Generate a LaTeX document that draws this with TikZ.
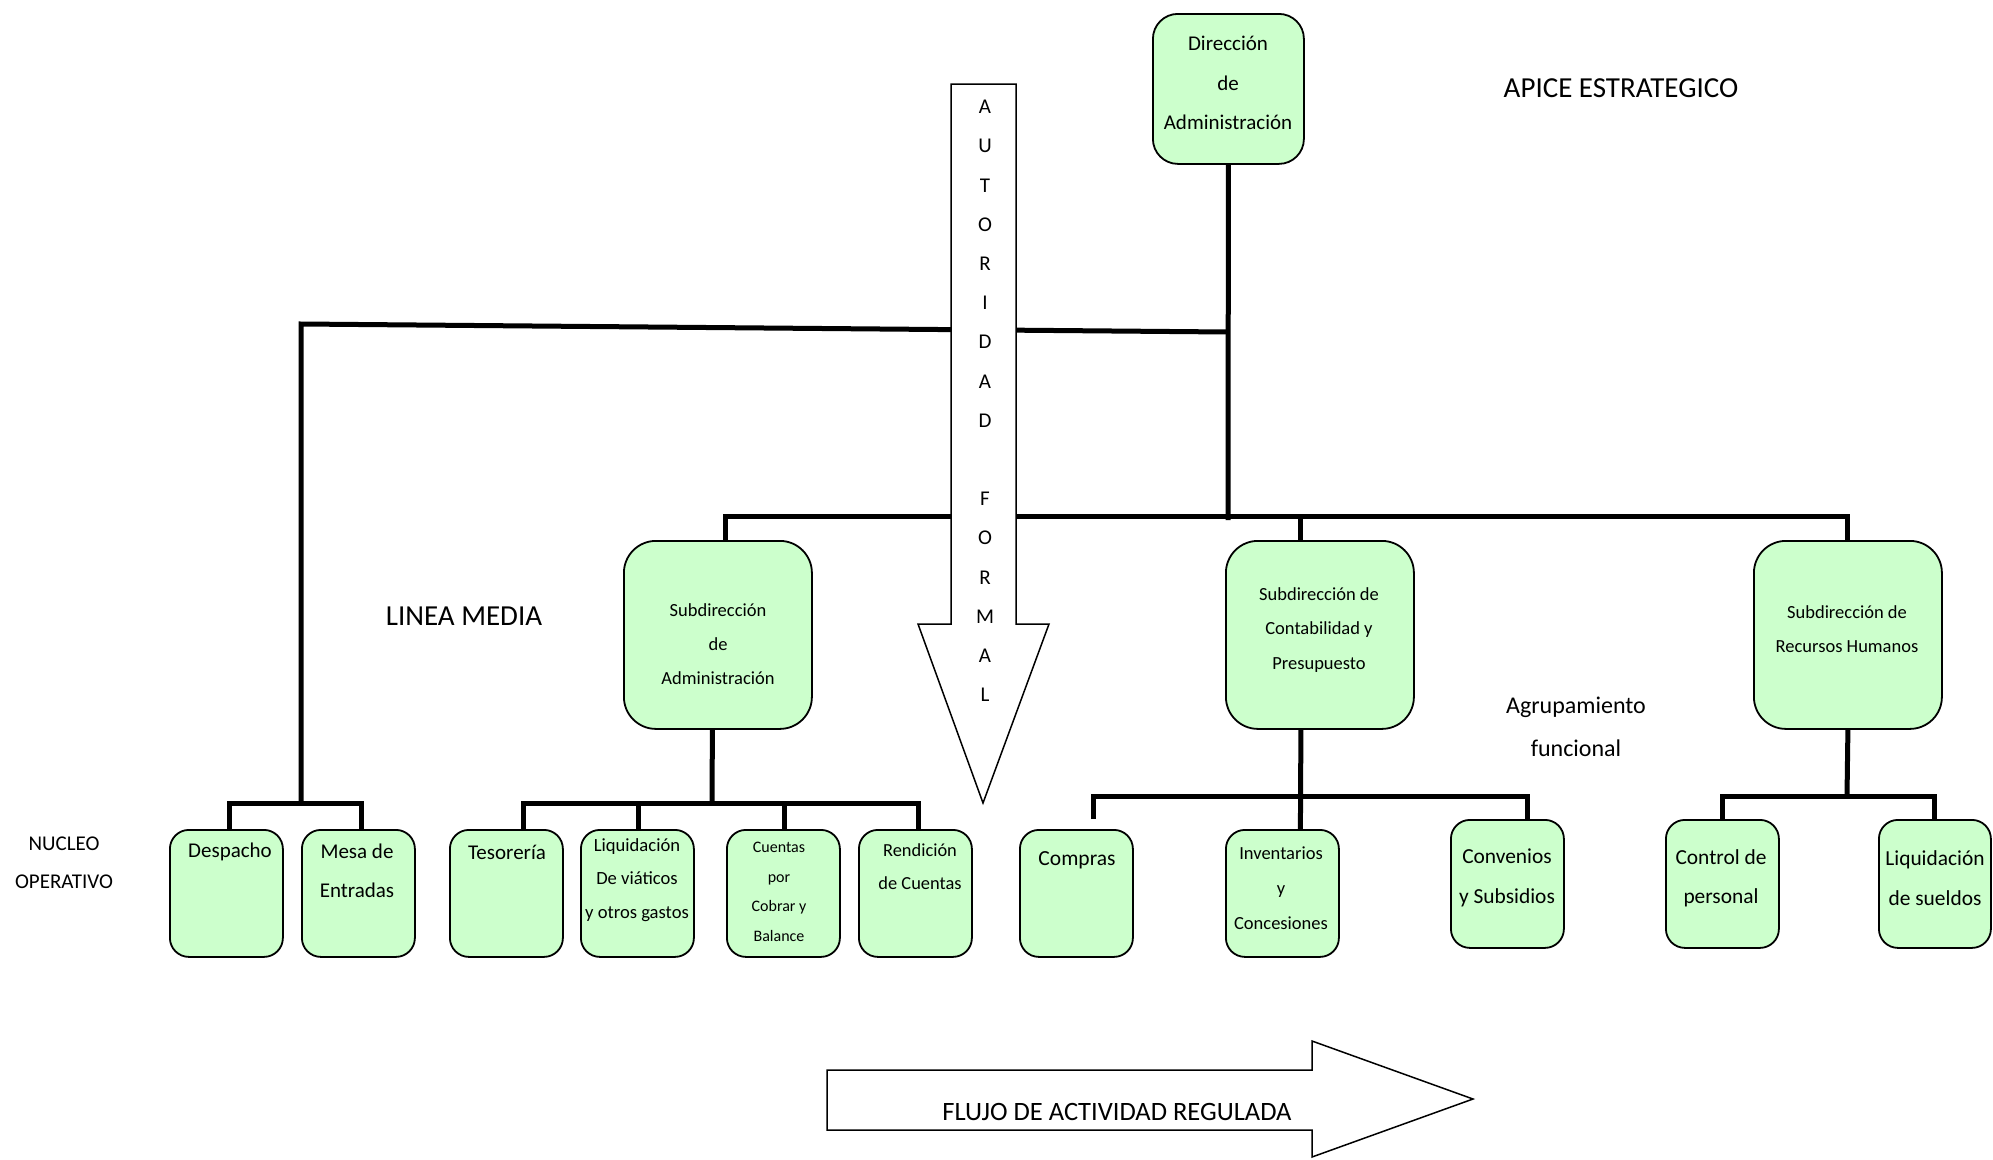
\documentclass[tikz,border=0pt]{standalone}
\usepackage{fontspec}
\setmainfont{Carlito}
\definecolor{boxgreen}{RGB}{204,255,204}
\newcommand{\fsz}[2]{\fontsize{#1}{#2}\selectfont}
\begin{document}
\begin{tikzpicture}[x=1pt,y=-1pt,
  box/.style={draw=black, line width=1.8pt, fill=boxgreen, inner sep=0pt, anchor=north west},
  topbox/.style={box, rounded corners=25pt, minimum width=151pt, minimum height=150pt},
  subbox/.style={box, rounded corners=32pt, minimum width=188pt, minimum height=188pt},
  leafbox/.style={box, rounded corners=19pt, minimum width=113pt},
  conn/.style={line width=5pt},
  lbl/.style={align=center, inner sep=0pt, text=black},
  bigarrow/.style={draw=black, line width=1.5pt, fill=white, line join=miter}]

\useasboundingbox (0,0) rectangle (1993,1159);

% ---- boxes
\node[topbox] (dir) at (1152,13) {};
\node[subbox] (subadm) at (623,540) {};
\node[subbox] (cont) at (1225,540) {};
\node[subbox] (rrhh) at (1753,540) {};
\node[leafbox, minimum height=127pt] (desp) at (169,829) {};
\node[leafbox, minimum height=127pt] (mesa) at (301,829) {};
\node[leafbox, minimum height=127pt] (teso) at (449,829) {};
\node[leafbox, minimum height=127pt] (liq) at (580,829) {};
\node[leafbox, minimum height=127pt] (cuen) at (726,829) {};
\node[leafbox, minimum height=127pt] (rend) at (858,829) {};
\node[leafbox, minimum height=127pt] (comp) at (1019,829) {};
\node[leafbox, minimum height=127pt] (inv) at (1225,829) {};
\node[leafbox, minimum height=128pt] (conv) at (1450,819) {};
\node[leafbox, minimum height=128pt] (ctrl) at (1665,819) {};
\node[leafbox, minimum height=128pt, minimum width=112pt] (lsue) at (1878,819) {};

% ---- junction coordinates
\coordinate (topL) at (301,324);
\coordinate (topR) at (1228,332);
\coordinate (midJ) at (1228,516);
\coordinate (brL) at (301,803);
\coordinate (brA) at (712,803);
\coordinate (brC) at (1300,796);
\coordinate (brR) at (1847,796);

% ---- connectors
\draw[conn] (dir.south) -- ([yshift=-4pt]midJ);
\draw[conn] (brL) -- (topL) -- (topR);
\draw[conn] ([xshift=8pt]subadm.north) |- (midJ -| rrhh.north) -- (rrhh.north);
\draw[conn] ([xshift=-19pt]cont.north) -- ([xshift=-19pt]cont.north |- midJ);

\draw[conn] ([xshift=3pt]desp.north) |- ([xshift=3pt]mesa.north |- brL) -- ([xshift=3pt]mesa.north);

\draw[conn] ([xshift=-5.5pt]subadm.south) -- (brA);
\draw[conn] ([xshift=17pt]teso.north) |- ([xshift=3.5pt]rend.north |- brA) -- ([xshift=3.5pt]rend.north);
\draw[conn] ([xshift=1.5pt]liq.north) -- ([xshift=1.5pt]liq.north |- brA);
\draw[conn] ([xshift=1.5pt]cuen.north) -- ([xshift=1.5pt]cuen.north |- brA);

\draw[conn] ([xshift=-19pt]cont.south) -- ([xshift=18pt]inv.north);
\draw[conn] ([xshift=17pt,yshift=10pt]comp.north) |- ([xshift=20pt]conv.north |- brC) -- ([xshift=20pt]conv.north);

\draw[conn] (rrhh.south) -- (brR);
\draw[conn] (ctrl.north) |- (lsue.north |- brR) -- (lsue.north);

% ---- big arrows
\draw[bigarrow] (951,84) -- (1016,84) -- (1016,624) -- (1049,624) -- (983,803) -- (918,624) -- (951,624) -- cycle;
\draw[bigarrow] (827,1070) -- (1312,1070) -- (1312,1041) -- (1473,1099) -- (1312,1157) -- (1312,1130) -- (827,1130) -- cycle;

\foreach \ch [count=\i] in {A,U,T,O,R,I,D,A,D}
  \node[lbl, font=\fsz{21}{25}] (au\i) at (985,{107+39.2*(\i-1)}) {\ch};
\foreach \ch [count=\i] in {F,O,R,M,A,L}
  \node[lbl, font=\fsz{21}{25}] (fo\i) at (985,{107+39.2*(\i+9)}) {\ch};

% ---- box texts
\node[lbl, font=\fsz{21}{39.4}] (dir-t) at (1228,83) {Dirección\\de\\Administración};
\node[lbl, font=\fsz{18.5}{34.3}] (subadm-t) at (718,644) {Subdirección\\de\\Administración};
\node[lbl, font=\fsz{18.5}{34.3}] (cont-t) at (1319,630) {Subdirección de\\Contabilidad y\\Presupuesto};
\node[lbl, font=\fsz{18.5}{34.3}] (rrhh-t) at (1847,629) {Subdirección de\\Recursos Humanos};
\node[lbl, font=\fsz{21}{39.4}] (desp-t) at (230,852) {Despacho};
\node[lbl, font=\fsz{21}{39.4}] (mesa-t) at (357,871) {Mesa de\\Entradas};
\node[lbl, font=\fsz{21}{39.4}] (teso-t) at (507,852) {Tesorería};
\node[lbl, font=\fsz{18.6}{33.7}] (liq-t) at (637,880) {Liquidación\\De viáticos\\y otros gastos};
\node[lbl, font=\fsz{16}{29.6}] (cuen-t) at (779,892) {Cuentas\\por\\Cobrar y\\Balance};
\node[lbl, font=\fsz{18.4}{33}] (rend-t) at (920,867) {Rendición\\de Cuentas};
\node[lbl, font=\fsz{21.5}{39.4}] (comp-t) at (1077,860) {Compras};
\node[lbl, font=\fsz{18.5}{35}] (inv-t) at (1281,888) {Inventarios\\y\\Concesiones};
\node[lbl, font=\fsz{21.4}{39.4}] (conv-t) at (1507,878) {Convenios\\y Subsidios};
\node[lbl, font=\fsz{21.4}{39.4}] (ctrl-t) at (1721,878) {Control de\\personal};
\node[lbl, font=\fsz{21.4}{39.4}] (lsue-t) at (1935,878) {Liquidación\\de sueldos};

% ---- free labels
\node[lbl, font=\fsz{29}{35}] (apice) at (1621,88) {APICE ESTRATEGICO};
\node[lbl, font=\fsz{29}{35}] (linea) at (464,616) {LINEA MEDIA};
\node[lbl, font=\fsz{24}{43}] (agrup) at (1576,727) {Agrupamiento\\funcional};
\node[lbl, font=\fsz{21}{38}] (nucleo) at (64,863) {NUCLEO\\OPERATIVO};
\node[lbl, font=\fsz{26.5}{30}] (flujo) at (1117,1112) {FLUJO DE ACTIVIDAD REGULADA};
\end{tikzpicture}
\end{document}
